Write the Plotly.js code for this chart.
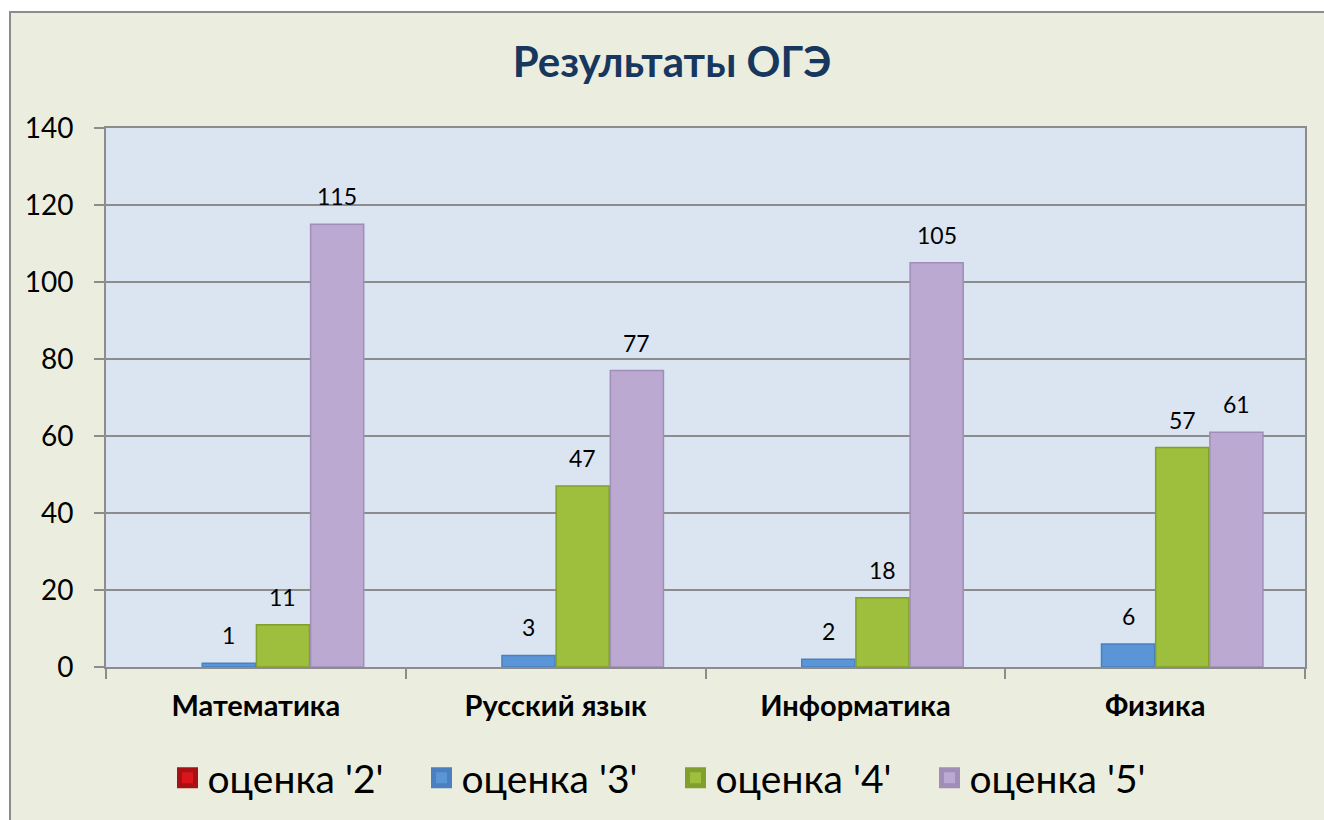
<!DOCTYPE html>
<html>
<head>
<meta charset="utf-8">
<script src="https://cdn.plot.ly/plotly-3.0.1.min.js"></script>
<style>html,body{margin:0;padding:0;background:#fff;}#chart{width:1324px;height:820px;}</style>
</head>
<body>
<div id="chart"></div>
<script>
const categories = ["Математика", "Русский язык", "Информатика", "Физика"];
const seriesNames = ["оценка '2'", "оценка '3'", "оценка '4'", "оценка '5'"];
const grade2 = [0, 0, 0, 0];
const grade3 = [1, 3, 2, 6];
const grade4 = [11, 47, 18, 57];
const grade5 = [115, 77, 105, 61];
const yTicks = [0, 20, 40, 60, 80, 100, 120, 140];

const seriesValues = [grade2, grade3, grade4, grade5];
const fills = ["#D9161B", "#5A95D8", "#9DBF3D", "#BCA9D2"];
const edges = ["#A81013", "#4A80C0", "#7FA02C", "#A08DB8"];
const FONT = "Lato, 'Open Sans', sans-serif";

const BARGAP = 0.277, GROUPGAP = 0.02;
const plotW = 1199, plotH = 539, nCat = categories.length, nSer = seriesNames.length;
const slot = plotW / nCat * (1 - BARGAP) / nSer;

const traces = [];
seriesValues.forEach((vals, j) => {
  traces.push({
    type: "bar", name: seriesNames[j], x: categories, y: vals,
    marker: {color: fills[j], line: {color: edges[j], width: vals.map(v => v === 0 ? 0 : 1.5)}},
    showlegend: false, hoverinfo: "skip"
  });
});
// legend proxies
seriesValues.forEach((vals, j) => {
  traces.push({
    type: "scatter", mode: "markers", name: seriesNames[j], x: [categories[0]], y: [null],
    marker: {symbol: "square", size: 16, color: fills[j], line: {color: edges[j], width: 5}},
    showlegend: true, hoverinfo: "skip"
  });
});

const annotations = [];
seriesValues.forEach((vals, j) => {
  vals.forEach((v, i) => {
    if (v === 0) return;
    annotations.push({
      x: categories[i], y: v, xref: "x", yref: "y", text: String(v), showarrow: false,
      xshift: (j - (nSer - 1) / 2) * slot, yshift: 28, yanchor: "middle",
      font: {family: FONT, size: 23, color: "#000"}
    });
  });
});

const shapes = [
  {type: "rect", xref: "paper", yref: "paper", x0: (10 - 106) / plotW, x1: 1.2, y0: -0.6, y1: (667 - 12) / plotH,
   fillcolor: "#EBEEDF", line: {color: "#8C8C8C", width: 2}, layer: "below"},
  {type: "rect", xref: "paper", yref: "paper", x0: 0, x1: 1, y0: 0, y1: 1,
   fillcolor: "#DBE5F1", line: {width: 0}, layer: "below"}
];

const layout = {
  width: 1324, height: 820,
  margin: {l: 106, r: 19, t: 128, b: 153, pad: 0, autoexpand: false},
  paper_bgcolor: "#FFFFFF", plot_bgcolor: "rgba(0,0,0,0)",
  barmode: "group", bargap: BARGAP, bargroupgap: GROUPGAP,
  title: {text: "<b>Результаты ОГЭ</b>", x: 672 / 1324, xanchor: "center", y: 1 - 62 / 820, yanchor: "middle", yref: "container",
          font: {family: FONT, size: 42, color: "#17375E"}},
  xaxis: {type: "category", categoryorder: "array", categoryarray: categories,
          tickson: "boundaries", ticks: "outside", ticklen: 10, tickcolor: "#8C8C8C", tickwidth: 2,
          showline: true, linecolor: "#8C8C8C", linewidth: 2, mirror: true,
          tickfont: {family: FONT, size: 29, color: "#000", weight: "bold"},
          ticklabelstandoff: 12, fixedrange: true},
  yaxis: {range: [0, 140], tickvals: yTicks, ticktext: yTicks.map(String),
          ticks: "outside", ticklen: 10, tickcolor: "#8C8C8C", tickwidth: 2,
          showline: true, linecolor: "#8C8C8C", linewidth: 2, mirror: true,
          showgrid: true, gridcolor: "#8C8C8C", gridwidth: 1.5, zeroline: false,
          tickfont: {family: FONT, size: 28, color: "#000"}, ticklabelstandoff: 15, fixedrange: true},
  legend: {orientation: "h", x: 0.5 - 30 / plotW, xanchor: "center", y: (667 - 778) / plotH, yanchor: "middle",
           font: {family: FONT, size: 39, color: "#000"}, bgcolor: "rgba(0,0,0,0)",
           entrywidth: 209, entrywidthmode: "pixels", itemclick: false, itemdoubleclick: false},
  annotations: annotations, shapes: shapes, showlegend: true
};

Plotly.newPlot("chart", traces, layout, {displayModeBar: false, staticPlot: true});
</script>
</body>
</html>
